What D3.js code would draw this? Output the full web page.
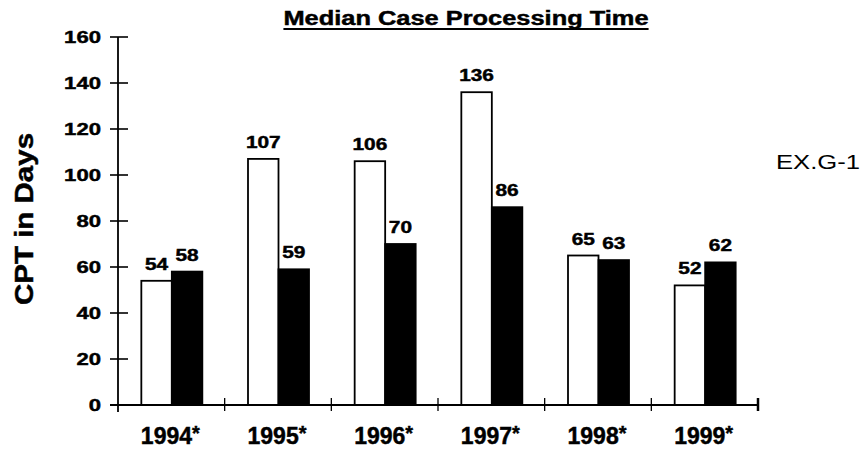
<!DOCTYPE html>
<html>
<head>
<meta charset="utf-8">
<script src="https://cdn.jsdelivr.net/npm/d3@7"></script>
<style>
  html, body { margin: 0; padding: 0; background: #fff; }
  svg text { font-family: "Liberation Sans", Arial, Helvetica, sans-serif; fill: #000; }
  svg text.heavy { stroke: #000; stroke-width: 0.45; }
</style>
</head>
<body>
<svg id="chart" width="868" height="451"></svg>
<script>
// Median case processing time (days), two series per year
const years = ["1994", "1995", "1996", "1997", "1998", "1999"];
const seriesOpen = [54, 107, 106, 136, 65, 52];
const seriesFilled = [58, 59, 70, 86, 63, 62];
const yTicks = [0, 20, 40, 60, 80, 100, 120, 140, 160];
const titleText = "Median Case Processing Time";
const yTitleText = "CPT in Days";
const sideNote = "EX.G-1";

const svg = d3.select("#chart");

// stretch a text element horizontally along its own run
function widen(sel, k) {
  sel.each(function () {
    const len = this.getComputedTextLength();
    d3.select(this).attr("textLength", len * k).attr("lengthAdjust", "spacingAndGlyphs");
  });
}

const x0 = d3.scaleBand().domain(years).range([118, 758]).paddingInner(0).paddingOuter(0);
const bw = x0.bandwidth();
const barW = 30.5;
const x1 = d3.scaleBand().domain(["open", "filled"])
  .range([bw / 2 - barW + 0.5, bw / 2 + barW + 0.5]).padding(0);
const y = d3.scaleLinear().domain([0, 160]).range([405, 37]);

const rows = years.map((yr, i) => ({ yr, open: seriesOpen[i], filled: seriesFilled[i] }));

// bars
const groups = svg.append("g").selectAll("g").data(rows).join("g")
  .attr("transform", d => `translate(${x0(d.yr)},0)`);

groups.selectAll("rect")
  .data(d => [{ key: "open", v: d.open }, { key: "filled", v: d.filled }])
  .join("rect")
  .attr("x", d => x1(d.key))
  .attr("width", x1.bandwidth())
  .attr("y", d => y(d.v))
  .attr("height", d => y(0) - y(d.v))
  .attr("fill", d => d.key === "open" ? "#fff" : "#000")
  .attr("stroke", "#000")
  .attr("stroke-width", 1.8);

// value labels
groups.selectAll("text.val")
  .data(d => [{ key: "open", v: d.open }, { key: "filled", v: d.filled }])
  .join("text")
  .attr("class", "val heavy")
  .attr("x", d => x1(d.key) + x1.bandwidth() / 2)
  .attr("y", d => y(d.v) - 11)
  .attr("text-anchor", "middle")
  .attr("font-weight", "bold")
  .attr("font-size", 16)
  .text(d => d.v)
  .call(widen, 1.3);

// y axis: line, crossing ticks and labels
const yAxis = d3.axisLeft(y).tickValues(yTicks).tickSize(0).tickFormat("");
const gy = svg.append("g").attr("transform", "translate(118,0)").call(yAxis);
gy.select(".domain").remove();
svg.append("line").attr("x1", 118).attr("x2", 118).attr("y1", y(160)).attr("y2", 412)
  .attr("stroke", "#000").attr("stroke-width", 1.8);
svg.append("g").selectAll("line").data(yTicks).join("line")
  .attr("x1", 110).attr("x2", 128)
  .attr("y1", d => y(d)).attr("y2", d => y(d))
  .attr("stroke", "#000").attr("stroke-width", 1.6);
svg.append("g").selectAll("text").data(yTicks).join("text")
  .attr("class", "heavy")
  .attr("x", 101).attr("y", d => y(d)).attr("dy", "0.36em")
  .attr("text-anchor", "end")
  .attr("font-weight", "bold").attr("font-size", 17)
  .text(d => d)
  .call(widen, 1.3);

// x axis
svg.append("line").attr("x1", 110).attr("x2", 758).attr("y1", y(0)).attr("y2", y(0))
  .attr("stroke", "#000").attr("stroke-width", 1.8);
const bounds = years.slice(1).map(yr => x0(yr));
svg.append("g").selectAll("line").data(bounds).join("line")
  .attr("x1", d => d).attr("x2", d => d)
  .attr("y1", y(0) - 7).attr("y2", y(0) + 6)
  .attr("stroke", "#000").attr("stroke-width", 1.3);
svg.append("line").attr("x1", 758).attr("x2", 758).attr("y1", y(0) - 7).attr("y2", y(0) + 6)
  .attr("stroke", "#000").attr("stroke-width", 2.5);

const xl = svg.append("g").selectAll("text").data(years).join("text")
  .attr("class", "heavy")
  .attr("x", d => x0(d) + bw / 2 - 1)
  .attr("y", 444)
  .attr("text-anchor", "middle")
  .attr("font-weight", "bold")
  .attr("font-size", 23);
xl.append("tspan").text(d => d);
xl.append("tspan").attr("font-size", 20).attr("dy", -4).text("*");

// title with underline
const title = svg.append("text")
  .attr("class", "heavy")
  .attr("x", 466).attr("y", 25)
  .attr("text-anchor", "middle")
  .attr("font-weight", "bold").attr("font-size", 20)
  .text(titleText)
  .call(widen, 1.27);
const tb = title.node().getBBox();
svg.append("line").attr("x1", tb.x).attr("x2", tb.x + tb.width)
  .attr("y1", 29).attr("y2", 29).attr("stroke", "#000").attr("stroke-width", 1.8);

// y title
svg.append("text")
  .attr("class", "heavy")
  .attr("transform", "translate(33,219) rotate(-90)")
  .attr("text-anchor", "middle")
  .attr("font-weight", "bold").attr("font-size", 25)
  .text(yTitleText)
  .call(widen, 1.18);

// side note
svg.append("text")
  .attr("x", 776).attr("y", 169)
  .attr("font-size", 21)
  .text(sideNote)
  .call(widen, 1.22);
</script>
</body>
</html>
